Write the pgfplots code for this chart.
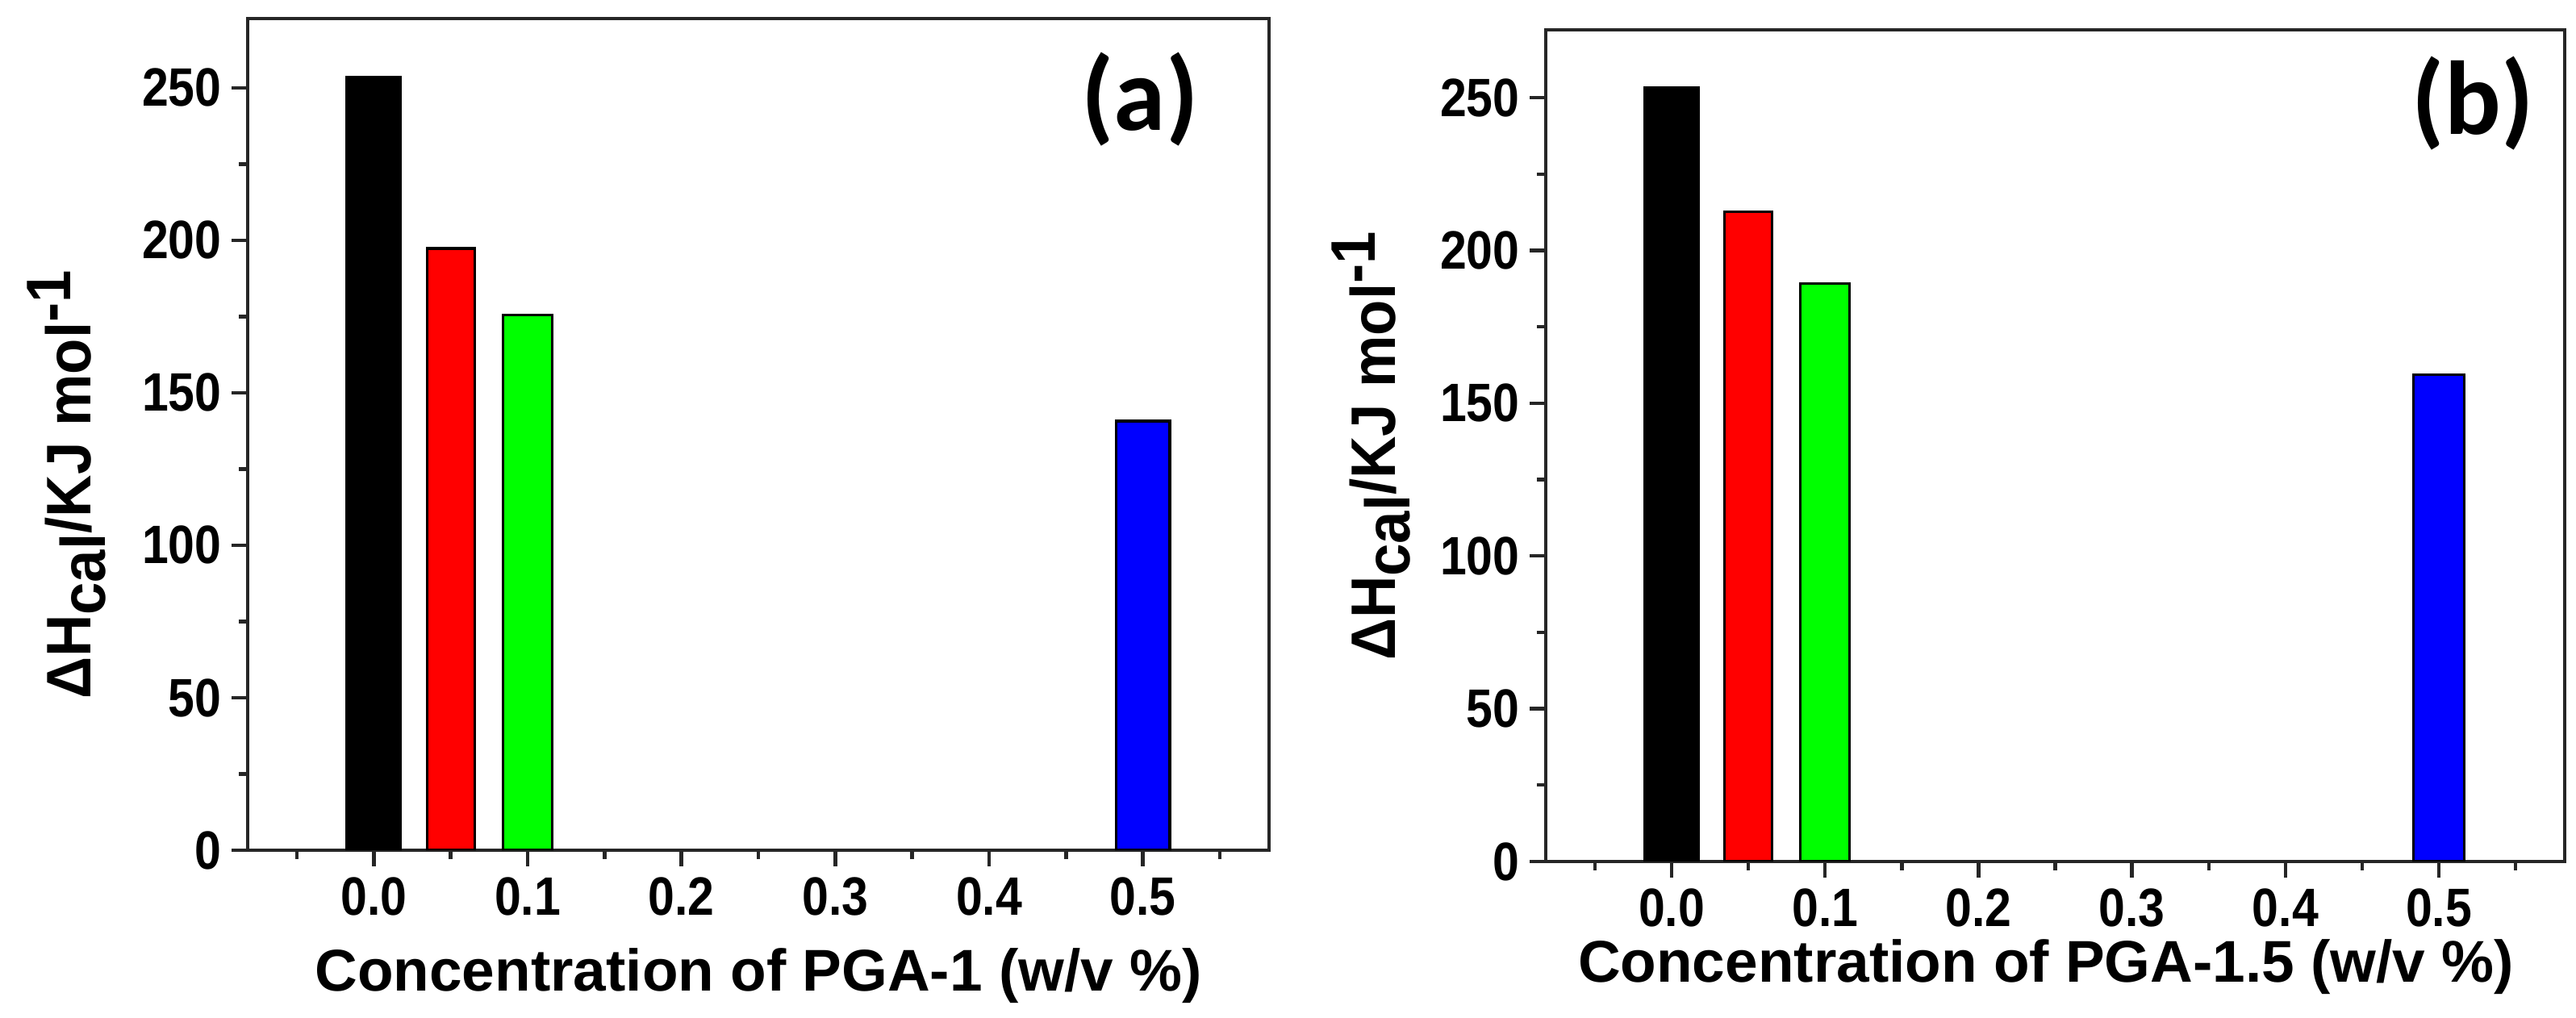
\documentclass[border=0pt]{standalone}
\usepackage{fontspec}
\setmainfont{Liberation Sans}
\newfontfamily\carlito{Carlito}
\usepackage{graphicx}
\usepackage{pgfplots}
\pgfplotsset{compat=1.18}

\pgfplotsset{
  mystyle/.style={
    scale only axis,
    anchor=south west,
    axis line style={line width=1.2pt, black!85},
    xmin=-0.082, xmax=0.582,
    ymin=0,
    xtick={0,0.1,0.2,0.3,0.4,0.5},
    xticklabels={0.0,0.1,0.2,0.3,0.4,0.5},
    minor xtick={-0.05,0.05,0.15,0.25,0.35,0.45,0.55},
    ytick={0,50,100,150,200,250},
    yticklabels={0,50,100,150,200,250},
    minor ytick={25,75,125,175,225},
    tick align=outside,
    tick pos=left,
    major tick length=5pt,
    minor tick length=2.8pt,
    every tick/.append style={line width=1.1pt, black!85},
    tick label style={font=\fontsize{16.75}{18}\selectfont\bfseries, xscale=0.88},
    xlabel style={font=\fontsize{18.25}{20}\selectfont\bfseries, anchor=base},
    ylabel style={font=\fontsize{19.5}{21}\selectfont\bfseries, anchor=base, rotate=0},
  },
  mybar/.style={ybar, bar shift=0pt, draw=black, line width=0.8pt},
}

\newcommand{\ytext}{\scalebox{0.93}[1]{ΔH\raisebox{-4.5pt}{cal}/KJ mol\raisebox{6.25pt}{-1}}}

\begin{document}
\begin{tikzpicture}
\useasboundingbox (0,0) rectangle (798.25pt,315.5pt);

% ---------- panel (a) ----------
\begin{axis}[mystyle,
  at={(76.75pt,52pt)},
  width=316.5pt, height=257.75pt,
  ymax=272.7,
  xlabel={Concentration of PGA-1 (w/v \%)},
  xlabel style={at={(axis description cs:0.5,-0.1688)}},
  ylabel={\ytext},
  ylabel style={at={(axis description cs:-0.154,0.4394)}},
]
\addplot[mybar, bar width=0.035, fill=black] coordinates {(0,253.5)};
\addplot[mybar, bar width=0.031, fill=red] coordinates {(0.05,197.3)};
\addplot[mybar, bar width=0.032, fill=green] coordinates {(0.1,175.4)};
\addplot[mybar, bar width=0.035, fill=blue] coordinates {(0.5,140.7)};
\node[font=\carlito\bfseries\fontsize{32.5}{34}\selectfont] at (axis description cs:0.8736,0.903) {(a)};
\end{axis}

% ---------- panel (b) ----------
\begin{axis}[mystyle,
  at={(479pt,48.5pt)},
  width=315.75pt, height=257.75pt,
  ymax=272.2,
  xlabel={Concentration of PGA-1.5 (w/v \%)},
  xlabel style={at={(axis description cs:0.4909,-0.1455)}},
  ylabel={\ytext},
  ylabel style={at={(axis description cs:-0.1473,0.4995)}},
]
\addplot[mybar, bar width=0.035, fill=black] coordinates {(0,253.4)};
\addplot[mybar, bar width=0.031, fill=red] coordinates {(0.05,212.7)};
\addplot[mybar, bar width=0.032, fill=green] coordinates {(0.1,189.2)};
\addplot[mybar, bar width=0.033, fill=blue] coordinates {(0.5,159.3)};
\node[font=\carlito\bfseries\fontsize{32.5}{34}\selectfont] at (axis description cs:0.910,0.912) {(b)};
\end{axis}
\end{tikzpicture}
\end{document}
